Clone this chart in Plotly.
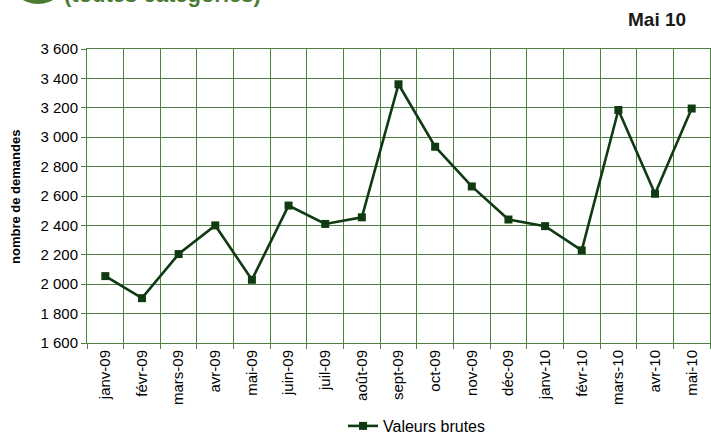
import plotly.graph_objects as go

months = ["janv-09", "févr-09", "mars-09", "avr-09", "mai-09", "juin-09", "juil-09",
          "août-09", "sept-09", "oct-09", "nov-09", "déc-09", "janv-10", "févr-10",
          "mars-10", "avr-10", "mai-10"]
valeurs_brutes = [2055, 1905, 2205, 2400, 2030, 2535, 2410, 2455, 3360, 2935, 2665,
                  2440, 2395, 2230, 3185, 2615, 3195]
series_name = "Valeurs brutes"
y_title = "nombre de demandes"
title_text = "(toutes catégories)"
date_label = "Mai 10"

W, H = 711, 434
L, R, T, B = 87, 1, 49, 91
PW, PH = W - L - R, H - T - B

def px_x(p):
    return (p - L) / PW

def px_y(p):
    return (H - B - p) / PH

GRID = "#4f7f42"
GREEN = "#4a7d33"
LINE = "#0f3a12"
FONT = "Liberation Sans, Arial, sans-serif"

fig = go.Figure()
fig.add_trace(go.Scatter(
    x=months, y=valeurs_brutes, mode="lines+markers", name=series_name,
    line=dict(color=LINE, width=2.6),
    marker=dict(symbol="square", size=8, color=LINE),
))

fig.update_layout(
    width=W, height=H,
    margin=dict(l=L, r=R, t=T, b=B, autoexpand=False),
    paper_bgcolor="white", plot_bgcolor="white",
    separators=", ",
    font=dict(family=FONT, size=15, color="#000000"),
    showlegend=True,
    legend=dict(orientation="h", x=px_x(343), y=px_y(409), xanchor="left", yanchor="top",
                font=dict(size=16, color="#000000"), bgcolor="rgba(0,0,0,0)"),
    xaxis=dict(
        type="category", tickson="boundaries", tickangle=-90, automargin=False,
        showgrid=True, gridcolor=GRID, gridwidth=1,
        showline=True, linecolor=GRID, linewidth=1, mirror=True,
        ticks="outside", ticklen=5, tickcolor=GRID,
        tickfont=dict(size=15, color="#000000"),
        range=[-0.5, len(months) - 0.5],
    ),
    yaxis=dict(
        range=[1600, 3600], dtick=200, tick0=1600, automargin=False,
        tickformat=",d", separatethousands=True,
        showgrid=True, gridcolor=GRID, gridwidth=1,
        showline=True, linecolor=GRID, linewidth=1, mirror=True,
        ticks="outside", ticklen=5, tickcolor=GRID,
        tickfont=dict(size=15, color="#000000"),
        zeroline=False,
    ),
    shapes=[
        dict(type="circle", xref="paper", yref="paper",
             x0=px_x(8), x1=px_x(68), y0=px_y(-56), y1=px_y(4),
             fillcolor=GREEN, line=dict(color=GREEN, width=0), layer="above"),
    ],
    annotations=[
        dict(text="<b>" + y_title + "</b>", xref="paper", yref="paper",
             x=px_x(15), y=px_y(197), xanchor="center", yanchor="middle", textangle=-90,
             showarrow=False, font=dict(size=13, color="#000000")),
        dict(text="<b>" + title_text + "</b>", xref="paper", yref="paper",
             x=px_x(62), y=px_y(9), xanchor="left", yanchor="bottom",
             showarrow=False, font=dict(size=22, color=GREEN)),
        dict(text="<b>" + date_label + "</b>", xref="paper", yref="paper",
             x=px_x(688), y=px_y(19), xanchor="right", yanchor="middle",
             showarrow=False, font=dict(size=19, color="#1a1a1a")),
    ],
)

fig.write_html("out.html", config={"displayModeBar": False},
               post_script="document.body.style.margin='0';")
